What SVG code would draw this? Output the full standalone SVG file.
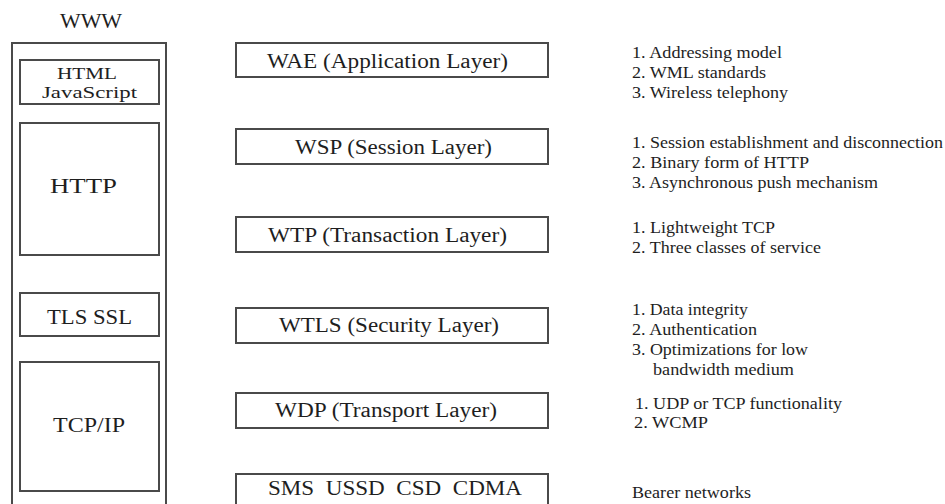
<svg xmlns="http://www.w3.org/2000/svg" width="945" height="504" viewBox="0 0 945 504">
<style>
.box{fill:none;stroke:#4a4a4a;stroke-width:2}
.t{fill:#1e1e1e}
.l{font-size:21px}
.s{font-size:17px}
.m{font-size:20px}
.r{font-size:16px}
</style>
<rect width="945" height="504" fill="#fff"/>
<g font-family="Liberation Serif, Times New Roman, DejaVu Serif, serif">
<g id="www">
<text class="t m" x="60" y="28" textLength="62" lengthAdjust="spacingAndGlyphs">WWW</text>
<rect class="box" x="12" y="43" width="154" height="480"/>
</g>
<g id="html">
<rect class="box" x="20" y="60" width="139" height="44"/>
<text class="t s" x="57" y="79" textLength="60" lengthAdjust="spacingAndGlyphs">HTML</text>
<text class="t s" x="42" y="98" textLength="95" lengthAdjust="spacingAndGlyphs">JavaScript</text>
</g>
<g id="http">
<rect class="box" x="20" y="123" width="139" height="132"/>
<text class="t l" x="50" y="193" textLength="67" lengthAdjust="spacingAndGlyphs">HTTP</text>
</g>
<g id="tls">
<rect class="box" x="20" y="293" width="139" height="43"/>
<text class="t l" x="47" y="324" textLength="85" lengthAdjust="spacingAndGlyphs">TLS SSL</text>
</g>
<g id="tcpip">
<rect class="box" x="20" y="362" width="139" height="129"/>
<text class="t l" x="53" y="432" textLength="72" lengthAdjust="spacingAndGlyphs">TCP/IP</text>
</g>
<g id="wae">
<rect class="box" x="236" y="43" width="312" height="34"/>
<text class="t m" x="267" y="68" textLength="241" lengthAdjust="spacingAndGlyphs">WAE (Application Layer)</text>
</g>
<g id="wsp">
<rect class="box" x="236" y="129" width="312" height="35"/>
<text class="t m" x="295" y="154" textLength="197" lengthAdjust="spacingAndGlyphs">WSP (Session Layer)</text>
</g>
<g id="wtp">
<rect class="box" x="236" y="217" width="312" height="35"/>
<text class="t m" x="268" y="242" textLength="239" lengthAdjust="spacingAndGlyphs">WTP (Transaction Layer)</text>
</g>
<g id="wtls">
<rect class="box" x="236" y="308" width="312" height="35"/>
<text class="t m" x="279" y="332" textLength="220" lengthAdjust="spacingAndGlyphs">WTLS (Security Layer)</text>
</g>
<g id="wdp">
<rect class="box" x="236" y="393" width="312" height="35"/>
<text class="t m" x="275" y="417" textLength="222" lengthAdjust="spacingAndGlyphs">WDP (Transport Layer)</text>
</g>
<g id="bearer">
<rect class="box" x="236" y="474" width="312" height="50"/>
<text class="t m" x="268" y="495" textLength="254" lengthAdjust="spacingAndGlyphs" xml:space="preserve">SMS  USSD  CSD  CDMA</text>
</g>
<g id="notes-wae">
<text class="t r" x="632" y="58" textLength="150" lengthAdjust="spacingAndGlyphs">1. Addressing model</text>
<text class="t r" x="632" y="78" textLength="134" lengthAdjust="spacingAndGlyphs">2. WML standards</text>
<text class="t r" x="632" y="98" textLength="156" lengthAdjust="spacingAndGlyphs">3. Wireless telephony</text>
</g>
<g id="notes-wsp">
<text class="t r" x="632" y="148" textLength="311" lengthAdjust="spacingAndGlyphs">1. Session establishment and disconnection</text>
<text class="t r" x="632" y="168" textLength="177" lengthAdjust="spacingAndGlyphs">2. Binary form of HTTP</text>
<text class="t r" x="632" y="188" textLength="246" lengthAdjust="spacingAndGlyphs">3. Asynchronous push mechanism</text>
</g>
<g id="notes-wtp">
<text class="t r" x="632" y="233" textLength="143" lengthAdjust="spacingAndGlyphs">1. Lightweight TCP</text>
<text class="t r" x="632" y="253" textLength="189" lengthAdjust="spacingAndGlyphs">2. Three classes of service</text>
</g>
<g id="notes-wtls">
<text class="t r" x="632" y="315" textLength="116" lengthAdjust="spacingAndGlyphs">1. Data integrity</text>
<text class="t r" x="632" y="335" textLength="125" lengthAdjust="spacingAndGlyphs">2. Authentication</text>
<text class="t r" x="632" y="355" textLength="176" lengthAdjust="spacingAndGlyphs">3. Optimizations for low</text>
<text class="t r" x="653" y="375" textLength="141" lengthAdjust="spacingAndGlyphs">bandwidth medium</text>
</g>
<g id="notes-wdp">
<text class="t r" x="635" y="409" textLength="207" lengthAdjust="spacingAndGlyphs">1. UDP or TCP functionality</text>
<text class="t r" x="634" y="428" textLength="74" lengthAdjust="spacingAndGlyphs">2. WCMP</text>
</g>
<g id="notes-bearer">
<text class="t r" x="632" y="498" textLength="119" lengthAdjust="spacingAndGlyphs">Bearer networks</text>
</g>
</g>
<g id="connectors"></g>
</svg>
